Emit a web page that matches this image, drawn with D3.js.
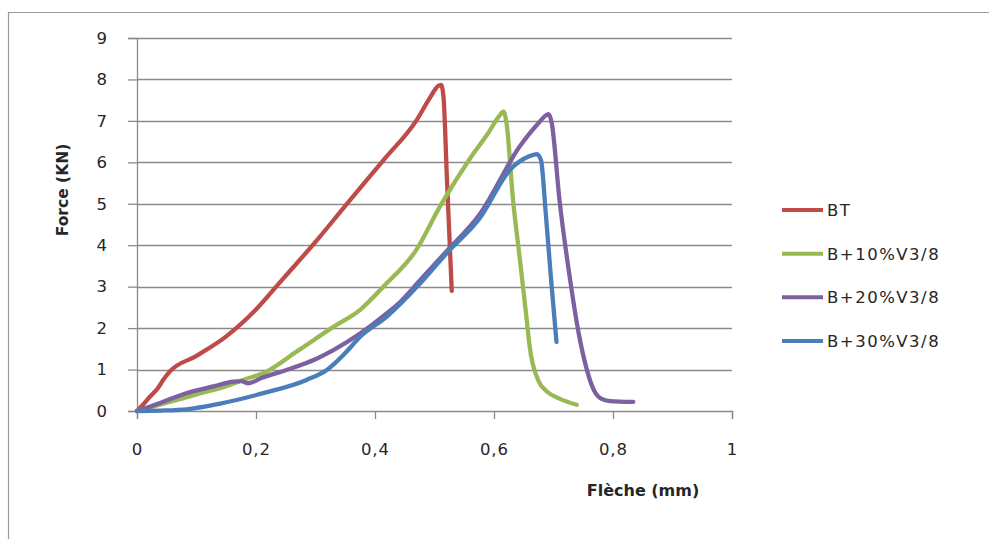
<!DOCTYPE html>
<html>
<head>
<meta charset="utf-8">
<script src="https://cdn.jsdelivr.net/npm/d3@7/dist/d3.min.js"></script>
<style>
  html, body { margin: 0; padding: 0; background: #fff; }
  svg { display: block; }
  text { font-family: "DejaVu Sans", Verdana, sans-serif; fill: #262626; }
</style>
</head>
<body>
<svg id="chart" width="989" height="539"></svg>
<script>
// Load–deflection curves (flèche in mm, force in kN)
const seriesNames = ["BT", "B+10%V3/8", "B+20%V3/8", "B+30%V3/8"];
const seriesColors = ["#BE4B48", "#98B954", "#7D60A0", "#4A7EBB"];

const btFleche = [0, 0.01, 0.022, 0.035, 0.044, 0.055, 0.1, 0.15, 0.2, 0.246, 0.3, 0.35, 0.414, 0.47, 0.492, 0.506, 0.511, 0.515, 0.521, 0.529];
const btForce  = [0, 0.15, 0.35, 0.55, 0.75, 0.95, 1.33, 1.8, 2.45, 3.2, 4.08, 4.95, 6.05, 7.02, 7.55, 7.84, 7.87, 7.6, 5.57, 2.9];

const b10Fleche = [0, 0.05, 0.1, 0.15, 0.184, 0.212, 0.27, 0.33, 0.375, 0.414, 0.47, 0.509, 0.56, 0.59, 0.608, 0.616, 0.621, 0.632, 0.644, 0.655, 0.66, 0.674, 0.689, 0.71, 0.739];
const b10Force  = [0, 0.2, 0.4, 0.6, 0.78, 0.91, 1.45, 2.03, 2.44, 3.0, 3.9, 4.93, 6.1, 6.7, 7.1, 7.22, 6.95, 5.09, 3.6, 2.2, 1.55, 0.75, 0.47, 0.3, 0.15];

const b20Fleche = [0, 0.04, 0.083, 0.13, 0.162, 0.175, 0.187, 0.21, 0.251, 0.3, 0.33, 0.375, 0.42, 0.44, 0.476, 0.52, 0.576, 0.644, 0.675, 0.688, 0.692, 0.697, 0.71, 0.728, 0.742, 0.756, 0.768, 0.78, 0.795, 0.834];
const b20Force  = [0, 0.2, 0.43, 0.6, 0.71, 0.72, 0.67, 0.8, 0.99, 1.25, 1.47, 1.87, 2.36, 2.6, 3.16, 3.85, 4.75, 6.4, 6.95, 7.14, 7.16, 6.95, 5.1, 3.16, 1.9, 1.0, 0.5, 0.3, 0.24, 0.22];

const b30Fleche = [0, 0.04, 0.083, 0.14, 0.212, 0.285, 0.319, 0.35, 0.375, 0.42, 0.476, 0.52, 0.576, 0.627, 0.66, 0.672, 0.679, 0.687, 0.696, 0.705];
const b30Force  = [0, 0.01, 0.04, 0.18, 0.43, 0.75, 0.99, 1.4, 1.79, 2.28, 3.08, 3.8, 4.65, 5.82, 6.15, 6.2, 6.05, 4.77, 3.16, 1.67];

const xTicks = [0, 0.2, 0.4, 0.6, 0.8, 1];
const xTickLabels = ["0", "0,2", "0,4", "0,6", "0,8", "1"];
const yTicks = [0, 1, 2, 3, 4, 5, 6, 7, 8, 9];

const xTitle = "Flèche (mm)";
const yTitle = "Force (KN)";

const series = [
  { fleche: btFleche, force: btForce },
  { fleche: b10Fleche, force: b10Force },
  { fleche: b20Fleche, force: b20Force },
  { fleche: b30Fleche, force: b30Force }
].map((s, i) => ({
  name: seriesNames[i],
  color: seriesColors[i],
  points: s.fleche.map((f, j) => [f, s.force[j]])
}));

const svg = d3.select("#chart");
const gridColor = "#8a8a8a";

// Outer chart frame
svg.append("path")
  .attr("d", "M8.5,539 L8.5,12.5 L989,12.5")
  .attr("fill", "none")
  .attr("stroke", "#9a9a9a")
  .attr("stroke-width", 1.2);

const x = d3.scaleLinear().domain([0, 1]).range([137, 732]);
const y = d3.scaleLinear().domain([0, 9]).range([411, 38]);

// Horizontal gridlines
svg.append("g")
  .selectAll("line")
  .data(yTicks.filter(t => t > 0))
  .join("line")
  .attr("x1", x(0)).attr("x2", x(1))
  .attr("y1", d => Math.round(y(d)) + 0.5)
  .attr("y2", d => Math.round(y(d)) + 0.5)
  .attr("stroke", gridColor)
  .attr("stroke-width", 1.3);

// Y axis
const yAxis = svg.append("g")
  .attr("transform", `translate(${x(0)},0)`)
  .call(d3.axisLeft(y).tickValues(yTicks).tickSize(9).tickPadding(21).tickFormat(d3.format("d")));
yAxis.select(".domain").attr("stroke", gridColor).attr("stroke-width", 1.3);
yAxis.selectAll(".tick line").attr("stroke", gridColor).attr("stroke-width", 1.3);
yAxis.selectAll(".tick text")
  .attr("font-size", 16.5)
  .attr("font-family", "DejaVu Sans")
  .attr("fill", "#262626");

// X axis
const xAxis = svg.append("g")
  .attr("transform", `translate(0,${y(0)})`)
  .call(d3.axisBottom(x).tickValues(xTicks).tickSize(8).tickPadding(24)
    .tickFormat((d, i) => xTickLabels[i]));
xAxis.select(".domain").attr("stroke", gridColor).attr("stroke-width", 1.3);
xAxis.selectAll(".tick line").attr("stroke", gridColor).attr("stroke-width", 1.3);
xAxis.selectAll(".tick text")
  .attr("font-size", 16.5)
  .attr("font-family", "DejaVu Sans")
  .attr("letter-spacing", 1)
  .attr("fill", "#262626");

// Axis titles
svg.append("text")
  .attr("x", 643).attr("y", 496)
  .attr("text-anchor", "middle")
  .attr("font-size", 16)
  .attr("font-weight", "bold")
  .text(xTitle);

svg.append("text")
  .attr("transform", `translate(68,190) rotate(-90)`)
  .attr("text-anchor", "middle")
  .attr("font-size", 15.5)
  .attr("font-weight", "bold")
  .text(yTitle);

// Curves
const line = d3.line()
  .x(d => x(d[0]))
  .y(d => y(d[1]))
  .curve(d3.curveMonotoneX);

svg.append("g")
  .selectAll("path")
  .data(series)
  .join("path")
  .attr("d", d => line(d.points))
  .attr("fill", "none")
  .attr("stroke", d => d.color)
  .attr("stroke-width", 4.3)
  .attr("stroke-linejoin", "round")
  .attr("stroke-linecap", "round");

// Legend
const legendY = d3.scalePoint().domain(seriesNames).range([210, 341]);
const legend = svg.append("g")
  .selectAll("g")
  .data(series)
  .join("g")
  .attr("transform", d => `translate(782,${legendY(d.name)})`);
legend.append("line")
  .attr("x1", 0).attr("x2", 41)
  .attr("stroke", d => d.color)
  .attr("stroke-width", 4);
legend.append("text")
  .attr("x", 45).attr("y", 6)
  .attr("font-size", 16.5)
  .attr("letter-spacing", 1.5)
  .text(d => d.name);
</script>
</body>
</html>
